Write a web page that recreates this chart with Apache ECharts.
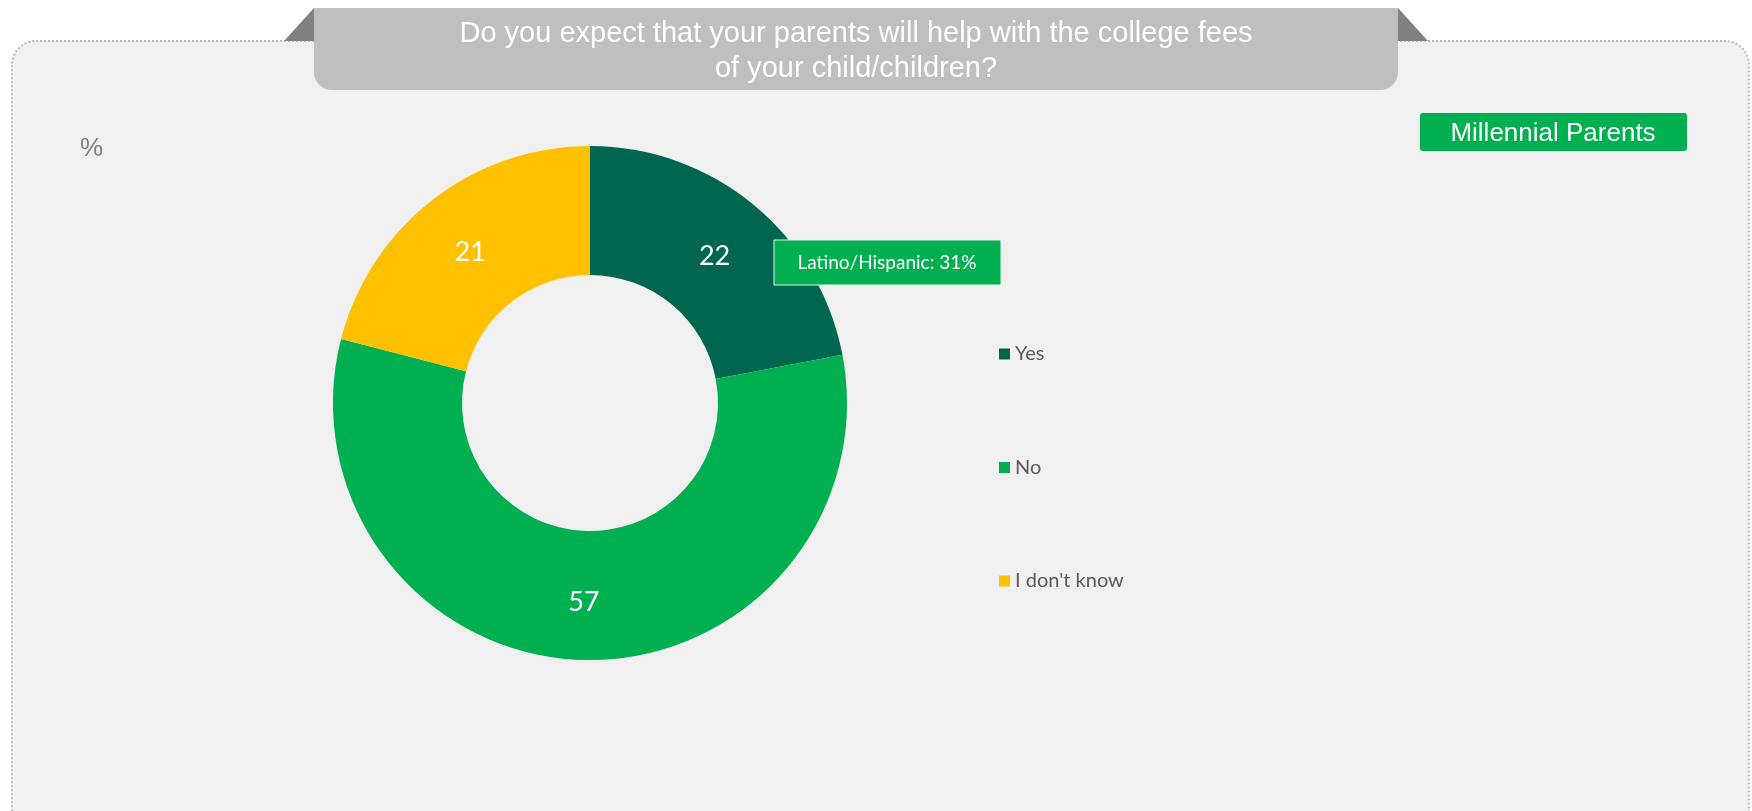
<!DOCTYPE html>
<html>
<head>
<meta charset="utf-8">
<script src="https://cdn.jsdelivr.net/npm/echarts@6/dist/echarts.min.js"></script>
<style>
  html, body { margin: 0; padding: 0; background: #ffffff; }
  #chart { width: 1752px; height: 811px; }
</style>
</head>
<body>
<div id="chart"></div>
<script>
// Survey answers (percent)
const categories = ['Yes', 'No', "I don't know"];
const values = [22, 57, 21];
const sliceColors = ['#00664F', '#00B050', '#FFC000'];

const questionText = 'Do you expect that your parents will help with the college fees\nof your child/children?';
const groupLabel = 'Millennial Parents';
const calloutText = 'Latino/Hispanic: 31%';
const unitLabel = '%';

const chart = echarts.init(document.getElementById('chart'), null, { renderer: 'canvas' });

const option = {
  backgroundColor: '#ffffff',
  animation: false,
  title: {
    text: questionText,
    left: 856,
    top: 16,
    textAlign: 'center',
    padding: 0,
    textStyle: {
      color: '#ffffff',
      fontFamily: 'Liberation Sans',
      fontWeight: 'normal',
      fontSize: 29,
      lineHeight: 35
    },
    z: 10
  },
  legend: {
    orient: 'vertical',
    left: 999,
    top: 344,
    padding: 0,
    icon: 'rect',
    itemWidth: 11,
    itemHeight: 11,
    itemGap: 93.5,
    textStyle: {
      color: '#595959',
      fontFamily: 'Lato',
      fontSize: 20,
      lineHeight: 20
    },
    data: categories
  },
  graphic: [
    // panel with dotted outline
    {
      type: 'rect', z: 0,
      shape: { x: 12, y: 41, width: 1737, height: 820, r: 24 },
      style: { fill: '#F0F0F0', stroke: '#BDBDBD', lineWidth: 2, lineDash: [2, 2] }
    },
    // banner side flaps
    {
      type: 'polygon', z: 1,
      shape: { points: [[284, 41], [314, 8], [314, 41]] },
      style: { fill: '#808080' }
    },
    {
      type: 'polygon', z: 1,
      shape: { points: [[1398, 8], [1428, 41], [1398, 41]] },
      style: { fill: '#808080' }
    },
    // question banner
    {
      type: 'rect', z: 2,
      shape: { x: 314, y: 8, width: 1084, height: 82, r: [0, 0, 18, 18] },
      style: { fill: '#BFBFBF' }
    },
    // unit label
    {
      type: 'text', z: 3,
      left: 80, top: 136,
      style: { text: unitLabel, fill: '#7F7F7F', font: '26px "Liberation Sans"' }
    },
    // group badge
    {
      type: 'rect', z: 3,
      shape: { x: 1420, y: 113, width: 267, height: 38, r: 3 },
      style: { fill: '#00B050' }
    },
    {
      type: 'text', z: 4,
      x: 1553, y: 134,
      style: { text: groupLabel, fill: '#ffffff', font: '26px "Liberation Sans"', align: 'center', verticalAlign: 'middle' }
    },
    // subgroup callout
    {
      type: 'rect', z: 5,
      shape: { x: 774, y: 240, width: 227, height: 45 },
      style: { fill: '#00B050', stroke: '#E6F5EC', lineWidth: 1 }
    },
    {
      type: 'text', z: 6,
      x: 887, y: 263,
      style: { text: calloutText, fill: '#ffffff', font: '19px Lato', align: 'center', verticalAlign: 'middle' }
    }
  ],
  series: [
    {
      type: 'pie',
      center: [590, 403],
      radius: [128, 257],
      startAngle: 90,
      clockwise: true,
      avoidLabelOverlap: false,
      silent: true,
      z: 2,
      label: {
        show: true,
        position: 'inside',
        formatter: '{c}',
        color: '#ffffff',
        fontFamily: 'Lato',
        fontSize: 27,
        offset: [0, 4]
      },
      labelLine: { show: false },
      itemStyle: { borderWidth: 0 },
      data: categories.map((name, i) => ({
        name: name,
        value: values[i],
        itemStyle: { color: sliceColors[i] }
      }))
    }
  ]
};

chart.setOption(option);
</script>
</body>
</html>
